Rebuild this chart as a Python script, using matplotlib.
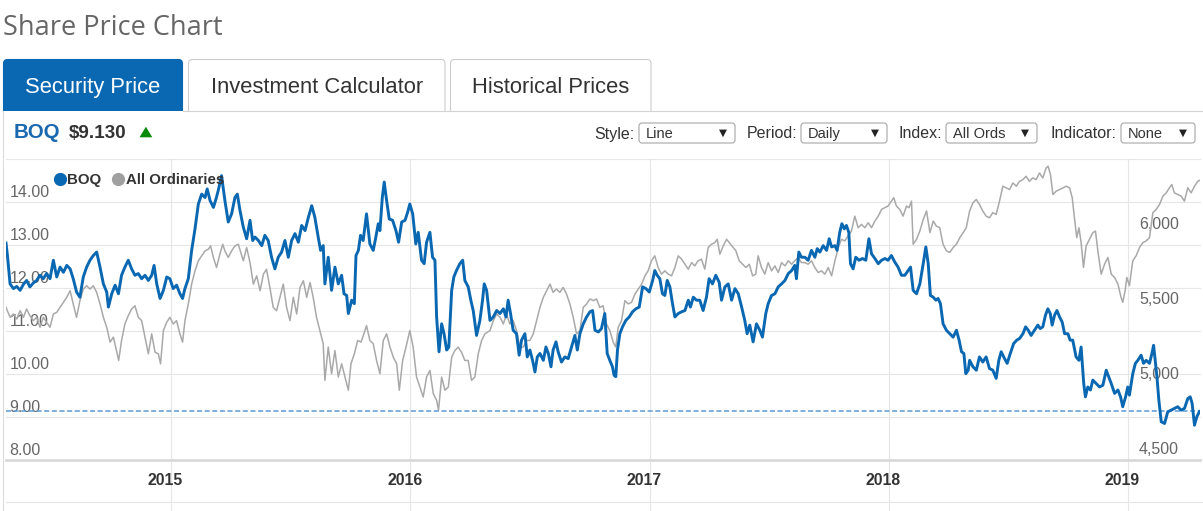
import matplotlib.pyplot as plt
from matplotlib.lines import Line2D
from matplotlib.patches import FancyBboxPatch, Rectangle, Polygon
from matplotlib.transforms import ScaledTranslation

plt.rcParams['font.family'] = ['Liberation Sans', 'DejaVu Sans']

# BOQ closing price (A$), time in decimal years
boq_t = [
    2014.310, 2014.316, 2014.327, 2014.341, 2014.355, 2014.369, 2014.383, 2014.396, 2014.410, 2014.424,
    2014.438, 2014.452, 2014.466, 2014.480, 2014.494, 2014.508, 2014.522, 2014.536, 2014.550, 2014.564,
    2014.578, 2014.591, 2014.605, 2014.619, 2014.633, 2014.647, 2014.661, 2014.675, 2014.689, 2014.703,
    2014.717, 2014.731, 2014.738, 2014.752, 2014.766, 2014.780, 2014.793, 2014.807, 2014.821, 2014.835,
    2014.849, 2014.863, 2014.877, 2014.891, 2014.905, 2014.919, 2014.929, 2014.940, 2014.954, 2014.968,
    2014.982, 2014.995, 2015.009, 2015.023, 2015.037, 2015.048, 2015.058, 2015.072, 2015.086, 2015.100,
    2015.114, 2015.128, 2015.142, 2015.151, 2015.163, 2015.177, 2015.188, 2015.197, 2015.211, 2015.225,
    2015.239, 2015.253, 2015.267, 2015.277, 2015.288,
    2015.302, 2015.316, 2015.330, 2015.341, 2015.351, 2015.365, 2015.379, 2015.392, 2015.406, 2015.420,
    2015.434, 2015.448, 2015.462, 2015.476, 2015.490, 2015.504, 2015.518, 2015.532, 2015.546, 2015.560,
    2015.574, 2015.588, 2015.601, 2015.615, 2015.625, 2015.636, 2015.643, 2015.657, 2015.671, 2015.685,
    2015.699, 2015.713, 2015.723, 2015.734, 2015.741, 2015.755, 2015.766, 2015.773, 2015.783, 2015.792,
    2015.803, 2015.817, 2015.831, 2015.845, 2015.856, 2015.866, 2015.873, 2015.883, 2015.891, 2015.901,
    2015.912, 2015.926, 2015.940, 2015.951, 2015.964, 2015.978, 2015.989, 2015.998, 2016.010, 2016.023,
    2016.033, 2016.047, 2016.058, 2016.068, 2016.082, 2016.093, 2016.103, 2016.110, 2016.120, 2016.131,
    2016.141, 2016.152, 2016.161, 2016.173, 2016.182, 2016.193, 2016.207, 2016.219, 2016.228, 2016.242,
    2016.253, 2016.263, 2016.277, 2016.291, 2016.302, 2016.309, 2016.319,
    2016.333, 2016.347, 2016.361, 2016.375, 2016.389, 2016.400, 2016.409, 2016.419, 2016.430, 2016.444,
    2016.455, 2016.465, 2016.479, 2016.489, 2016.500, 2016.511, 2016.521, 2016.531, 2016.542, 2016.556,
    2016.567, 2016.577, 2016.588, 2016.597, 2016.609, 2016.618, 2016.632, 2016.646, 2016.660, 2016.674,
    2016.688, 2016.698, 2016.709, 2016.723, 2016.737, 2016.751, 2016.762, 2016.772, 2016.786, 2016.799,
    2016.813, 2016.823, 2016.834, 2016.845, 2016.852, 2016.859, 2016.866, 2016.876, 2016.887, 2016.901,
    2016.915, 2016.929, 2016.943, 2016.957, 2016.971, 2016.985, 2016.999, 2017.013, 2017.022, 2017.032,
    2017.043, 2017.054, 2017.064, 2017.074, 2017.085, 2017.096, 2017.106, 2017.120, 2017.134, 2017.148,
    2017.162, 2017.171, 2017.183, 2017.196, 2017.210, 2017.224, 2017.238, 2017.249, 2017.263, 2017.277,
    2017.291, 2017.301, 2017.315, 2017.329,
    2017.343, 2017.357, 2017.371, 2017.385, 2017.398, 2017.408, 2017.419, 2017.433, 2017.447, 2017.461,
    2017.472, 2017.486, 2017.496, 2017.510, 2017.524, 2017.538, 2017.552, 2017.566, 2017.580, 2017.594,
    2017.607, 2017.614, 2017.624, 2017.635, 2017.649, 2017.663, 2017.677, 2017.691, 2017.701, 2017.712,
    2017.726, 2017.740, 2017.751, 2017.761, 2017.775, 2017.784, 2017.795, 2017.804, 2017.814, 2017.823,
    2017.833, 2017.840, 2017.851, 2017.862, 2017.876, 2017.890, 2017.904, 2017.917, 2017.928, 2017.942,
    2017.956, 2017.970, 2017.984, 2017.997, 2018.011, 2018.025, 2018.039, 2018.053, 2018.067, 2018.081,
    2018.091, 2018.102, 2018.116, 2018.130, 2018.144, 2018.155, 2018.165, 2018.174, 2018.186, 2018.197,
    2018.206, 2018.216, 2018.227, 2018.241, 2018.255, 2018.269, 2018.283, 2018.294, 2018.304, 2018.314,
    2018.322, 2018.332,
    2018.338, 2018.352, 2018.366, 2018.379, 2018.393, 2018.407, 2018.421, 2018.435, 2018.449, 2018.460,
    2018.470, 2018.484, 2018.495, 2018.508, 2018.522, 2018.535, 2018.547, 2018.561, 2018.572, 2018.583,
    2018.595, 2018.609, 2018.623, 2018.633, 2018.644, 2018.655, 2018.665, 2018.675, 2018.683, 2018.693,
    2018.703, 2018.714, 2018.725, 2018.735, 2018.749, 2018.758, 2018.769, 2018.783, 2018.795, 2018.804,
    2018.815, 2018.822, 2018.832, 2018.843, 2018.853, 2018.867, 2018.881, 2018.895, 2018.909, 2018.919,
    2018.930, 2018.944, 2018.958, 2018.969, 2018.978, 2018.990, 2018.999, 2019.006, 2019.020, 2019.031,
    2019.041, 2019.055, 2019.065, 2019.076, 2019.090, 2019.100, 2019.107, 2019.115, 2019.121, 2019.129,
    2019.139, 2019.153, 2019.166, 2019.180, 2019.194, 2019.208, 2019.222, 2019.236, 2019.250, 2019.260,
    2019.268, 2019.278, 2019.288, 2019.299,
]
boq_v = [
    13.05, 12.76, 12.10, 11.99, 12.04, 11.95, 12.09, 12.18, 12.03, 12.12,
    12.18, 12.30, 12.22, 12.34, 12.22, 12.65, 12.26, 12.49, 12.37, 12.53,
    12.45, 12.22, 11.91, 11.79, 12.26, 12.49, 12.65, 12.76, 12.84, 12.49,
    12.10, 11.91, 11.56, 11.87, 12.07, 11.87, 12.30, 12.49, 12.65, 12.45,
    12.30, 12.34, 12.22, 12.30, 12.18, 12.30, 12.53, 12.10, 11.76, 11.95,
    12.26, 12.22, 11.99, 12.07, 11.87, 11.76, 11.99, 12.22, 12.88, 13.38,
    13.96, 14.19, 14.11, 14.31, 14.04, 13.88, 14.08, 14.27, 14.62, 14.04,
    13.54, 13.73, 14.11, 14.19, 13.81,
    13.42, 13.15, 13.58, 13.11, 13.19, 13.11, 12.99, 13.23, 13.11, 12.72,
    12.45, 12.72, 12.84, 13.11, 12.72, 13.11, 13.27, 13.07, 13.46, 13.34,
    13.65, 13.92, 13.65, 13.19, 12.88, 12.99, 12.10, 12.72, 11.95, 12.49,
    12.10, 12.30, 11.87, 11.83, 11.41, 11.72, 11.64, 12.76, 12.88, 13.23,
    13.11, 13.73, 13.03, 12.88, 13.19, 13.50, 13.34, 14.11, 14.47, 14.04,
    13.61, 13.58, 13.34, 13.07, 13.54, 13.58, 13.77, 13.96, 13.73, 13.03,
    13.30, 12.65, 12.57, 13.07, 13.30, 12.72, 12.65, 11.33, 10.52, 11.17,
    10.94, 10.56, 10.63, 11.95, 12.26, 12.41, 12.57, 12.65, 12.18, 12.03,
    11.72, 11.48, 10.90, 11.25, 11.72, 12.10, 11.95,
    11.25, 11.33, 11.48, 11.41, 11.52, 11.33, 11.72, 11.41, 11.02, 10.94,
    10.44, 10.79, 10.94, 10.40, 10.56, 10.32, 10.05, 10.40, 10.48, 10.32,
    10.63, 10.48, 10.17, 10.56, 10.75, 10.52, 10.28, 10.40, 10.36, 10.63,
    10.90, 10.56, 10.94, 11.17, 11.33, 11.45, 11.48, 11.02, 10.98, 11.06,
    11.41, 10.48, 10.32, 10.17, 9.97, 9.94, 10.56, 10.94, 11.10, 11.25,
    11.33, 11.45, 11.52, 11.56, 12.03, 11.99, 11.91, 12.18, 12.41, 12.30,
    12.22, 11.87, 11.83, 12.18, 12.03, 11.64, 11.33, 11.41, 11.45, 11.48,
    11.72, 11.56, 11.79, 11.72, 11.72, 11.48, 11.79, 12.22, 12.10, 12.30,
    12.14, 11.72, 12.03, 12.10,
    11.72, 11.99, 11.87, 11.56, 11.25, 10.94, 11.14, 10.75, 11.17, 11.02,
    10.86, 11.41, 11.64, 11.83, 11.87, 12.03, 12.10, 12.18, 12.34, 12.41,
    12.53, 12.22, 12.84, 12.72, 12.72, 12.65, 12.88, 12.72, 12.92, 12.84,
    12.99, 12.88, 13.15, 12.96, 12.99, 12.88, 13.30, 13.50, 13.38, 13.46,
    13.30, 12.57, 12.45, 12.72, 12.65, 12.69, 12.65, 13.15, 12.80, 12.69,
    12.57, 12.65, 12.69, 12.65, 12.76, 12.61, 12.49, 12.30, 12.30, 12.41,
    12.49, 11.95, 11.87, 12.10, 12.57, 12.96, 12.57, 11.83, 11.79, 11.72,
    11.76, 11.64, 11.17, 11.02, 10.94, 10.86, 11.02, 10.79, 10.52, 10.48,
    10.01, 10.09,
    10.32, 10.17, 10.09, 10.40, 10.28, 10.40, 10.13, 10.09, 9.90, 10.32,
    10.52, 10.36, 10.25, 10.48, 10.71, 10.79, 10.83, 10.94, 11.10, 11.02,
    10.90, 11.02, 11.14, 11.06, 11.10, 11.37, 11.52, 11.41, 11.14, 11.37,
    11.48, 11.33, 11.21, 10.94, 10.94, 10.79, 10.79, 10.40, 10.32, 10.63,
    9.78, 9.47, 9.70, 9.63, 9.86, 9.78, 9.70, 9.74, 10.09, 9.94,
    9.78, 9.55, 9.63, 9.47, 9.24, 9.47, 9.70, 9.51, 10.01, 10.25,
    10.32, 10.44, 10.25, 10.32, 10.25, 10.48, 10.67, 10.25, 9.94, 9.39,
    8.89, 8.85, 9.12, 9.16, 9.20, 9.24, 9.16, 9.20, 9.43, 9.47,
    9.32, 8.81, 9.01, 9.13,
]

# All Ordinaries index, time in decimal years
ords_t = [
    2014.310, 2014.327, 2014.341, 2014.355, 2014.369, 2014.383, 2014.396, 2014.410, 2014.424, 2014.438,
    2014.452, 2014.466, 2014.480, 2014.494, 2014.508, 2014.522, 2014.536, 2014.550, 2014.564, 2014.578,
    2014.591, 2014.605, 2014.619, 2014.633, 2014.647, 2014.661, 2014.675, 2014.689, 2014.703, 2014.717,
    2014.731, 2014.745, 2014.759, 2014.773, 2014.781, 2014.793, 2014.807, 2014.821, 2014.835, 2014.849,
    2014.863, 2014.877, 2014.891, 2014.905, 2014.919, 2014.933, 2014.947, 2014.956, 2014.968, 2014.982,
    2014.995, 2015.009, 2015.023, 2015.037, 2015.048, 2015.058, 2015.072, 2015.086, 2015.100, 2015.114,
    2015.128, 2015.142, 2015.156, 2015.165, 2015.177, 2015.190, 2015.204, 2015.216, 2015.225, 2015.239,
    2015.253, 2015.267, 2015.281,
    2015.302, 2015.316, 2015.330, 2015.344, 2015.358, 2015.372, 2015.386, 2015.399, 2015.413, 2015.427,
    2015.441, 2015.455, 2015.469, 2015.483, 2015.497, 2015.511, 2015.525, 2015.539, 2015.553, 2015.567,
    2015.581, 2015.594, 2015.608, 2015.622, 2015.636, 2015.643, 2015.657, 2015.671, 2015.685, 2015.699,
    2015.713, 2015.727, 2015.741, 2015.752, 2015.766, 2015.780, 2015.794, 2015.806, 2015.817, 2015.831,
    2015.845, 2015.859, 2015.873, 2015.887, 2015.901, 2015.915, 2015.929, 2015.943, 2015.954, 2015.968,
    2015.982, 2015.998, 2016.012, 2016.026, 2016.040, 2016.054, 2016.068, 2016.082, 2016.096, 2016.110,
    2016.118, 2016.131, 2016.145, 2016.159, 2016.173, 2016.186, 2016.200, 2016.214, 2016.228, 2016.242,
    2016.256, 2016.270, 2016.284, 2016.298, 2016.312,
    2016.333, 2016.347, 2016.361, 2016.375, 2016.389, 2016.402, 2016.416, 2016.430, 2016.444, 2016.458,
    2016.472, 2016.486, 2016.500, 2016.514, 2016.528, 2016.542, 2016.556, 2016.570, 2016.584, 2016.597,
    2016.611, 2016.625, 2016.639, 2016.653, 2016.667, 2016.681, 2016.695, 2016.709, 2016.723, 2016.737,
    2016.751, 2016.765, 2016.779, 2016.792, 2016.806, 2016.820, 2016.834, 2016.848, 2016.859, 2016.869,
    2016.883, 2016.897, 2016.911, 2016.925, 2016.939, 2016.953, 2016.967, 2016.981, 2016.994, 2017.008,
    2017.022, 2017.036, 2017.050, 2017.064, 2017.078, 2017.092, 2017.106, 2017.120, 2017.134, 2017.148,
    2017.162, 2017.176, 2017.189, 2017.203, 2017.217, 2017.231, 2017.245, 2017.259, 2017.273, 2017.283,
    2017.294, 2017.308, 2017.322,
    2017.361, 2017.375, 2017.389, 2017.403, 2017.417, 2017.431, 2017.444, 2017.454, 2017.468, 2017.482,
    2017.496, 2017.510, 2017.524, 2017.538, 2017.552, 2017.566, 2017.580, 2017.594, 2017.607, 2017.621,
    2017.635, 2017.649, 2017.663, 2017.677, 2017.691, 2017.705, 2017.719, 2017.733, 2017.747, 2017.761,
    2017.775, 2017.789, 2017.802, 2017.816, 2017.830, 2017.844, 2017.858, 2017.872, 2017.886, 2017.900,
    2017.914, 2017.928, 2017.942, 2017.956, 2017.970, 2017.984, 2017.997, 2018.011, 2018.021, 2018.032,
    2018.046, 2018.060, 2018.074, 2018.085, 2018.095, 2018.102, 2018.116, 2018.130, 2018.144, 2018.158,
    2018.172, 2018.186, 2018.199, 2018.213, 2018.227, 2018.241, 2018.255, 2018.269, 2018.283, 2018.297,
    2018.311,
    2018.324, 2018.338, 2018.352, 2018.366, 2018.379, 2018.393, 2018.407, 2018.421, 2018.435, 2018.449,
    2018.463, 2018.477, 2018.491, 2018.505, 2018.519, 2018.533, 2018.547, 2018.561, 2018.574, 2018.588,
    2018.602, 2018.616, 2018.630, 2018.644, 2018.658, 2018.666, 2018.676, 2018.686, 2018.700, 2018.714,
    2018.728, 2018.742, 2018.756, 2018.767, 2018.776, 2018.786, 2018.795, 2018.804, 2018.814, 2018.825,
    2018.839, 2018.853, 2018.864, 2018.874, 2018.888, 2018.902, 2018.916, 2018.930, 2018.944, 2018.958,
    2018.971, 2018.978, 2018.988, 2018.995, 2019.006, 2019.020, 2019.034, 2019.048, 2019.062, 2019.076,
    2019.090, 2019.104, 2019.118, 2019.132, 2019.146, 2019.160, 2019.173, 2019.183, 2019.194, 2019.208,
    2019.222, 2019.236, 2019.250, 2019.264, 2019.278, 2019.292, 2019.306,
]
ords_v = [
    5515, 5449, 5471, 5438, 5493, 5449, 5504, 5460, 5427, 5449,
    5383, 5449, 5416, 5383, 5471, 5482, 5515, 5549, 5582, 5626,
    5538, 5449, 5560, 5637, 5659, 5637, 5659, 5615, 5538, 5449,
    5383, 5284, 5317, 5217, 5162, 5295, 5405, 5460, 5504, 5526,
    5449, 5427, 5317, 5206, 5339, 5217, 5206, 5140, 5361, 5416,
    5449, 5405, 5427, 5339, 5284, 5427, 5538, 5670, 5758, 5825,
    5858, 5891, 5902, 5924, 5847, 5780, 5869, 5935, 5891, 5847,
    5891, 5924, 5935,
    5825, 5913, 5813, 5670, 5725, 5626, 5736, 5769, 5648, 5515,
    5493, 5582, 5670, 5515, 5427, 5582, 5471, 5648, 5692, 5582,
    5681, 5582, 5449, 5361, 5273, 5030, 5251, 5074, 5228, 5052,
    5140, 5052, 4964, 5140, 5206, 5295, 5284, 5339, 5394, 5295,
    5273, 5162, 5074, 5295, 5339, 5251, 5184, 5140, 4964, 5162,
    5251, 5361, 5251, 5052, 4986, 4919, 5052, 5096, 4942, 4897,
    4831, 5052, 4964, 4986, 5184, 5228, 5251, 5217, 5162, 5162,
    5030, 5052, 5206, 5295, 5339,
    5361, 5427, 5471, 5449, 5405, 5471, 5405, 5427, 5361, 5251,
    5251, 5295, 5295, 5339, 5427, 5515, 5582, 5626, 5670, 5615,
    5637, 5615, 5648, 5604, 5538, 5449, 5339, 5361, 5515, 5538,
    5571, 5560, 5571, 5515, 5526, 5405, 5361, 5284, 5251, 5383,
    5427, 5560, 5538, 5549, 5604, 5637, 5670, 5725, 5758, 5825,
    5858, 5780, 5736, 5758, 5736, 5725, 5780, 5858, 5836, 5802,
    5769, 5813, 5791, 5825, 5836, 5769, 5913, 5935, 5946, 5968,
    5869, 5924, 5968,
    5891, 5825, 5802, 5780, 5802, 5725, 5736, 5858, 5780, 5736,
    5813, 5758, 5791, 5747, 5813, 5791, 5825, 5802, 5825, 5847,
    5813, 5813, 5802, 5825, 5780, 5747, 5758, 5736, 5780, 5725,
    5825, 5913, 5968, 5957, 5990, 6023, 6122, 6045, 6067, 6045,
    6078, 6045, 6089, 6122, 6167, 6178, 6189, 6222, 6244, 6189,
    6167, 6122, 6189, 6178, 6222, 5935, 5968, 6023, 6100, 6156,
    6012, 6089, 6056, 6045, 5935, 5891, 5880, 5913, 5935, 5979,
    6012,
    6045, 6156, 6211, 6233, 6200, 6156, 6122, 6111, 6145, 6134,
    6222, 6321, 6310, 6299, 6343, 6321, 6354, 6365, 6387, 6354,
    6376, 6365, 6409, 6376, 6443, 6454, 6398, 6266, 6288, 6299,
    6310, 6321, 6310, 6244, 6111, 5979, 6045, 5946, 5781, 5924,
    5968, 6012, 6023, 5891, 5736, 5802, 5847, 5736, 5714, 5670,
    5582, 5549, 5626, 5714, 5659, 5825, 5858, 5913, 5946, 5957,
    5979, 6145, 6167, 6200, 6255, 6277, 6310, 6332, 6277, 6266,
    6255, 6222, 6310, 6277, 6321, 6354, 6365,
]

last_price = 9.13
year_ticks = [2015, 2016, 2017, 2018, 2019]
boq_ticks = [8, 9, 10, 11, 12, 13, 14]
boq_grid = [9, 10, 11, 12, 13, 14, 15]
ords_ticks = [4500, 5000, 5500, 6000]
boq_range = (8, 15)
ords_range = (4500, 6500)
time_range = (2014.310, 2019.301)

tabs = ['Security Price', 'Investment Calculator', 'Historical Prices']
controls = [('Style:', 'Line'), ('Period:', 'Daily'), ('Index:', 'All Ords'), ('Indicator:', 'None')]

BLUE = '#0a67b2'
GREY_LINE = '#a9a9a9'
GRID = '#e6e6e6'

W, H = 1203, 511
fig = plt.figure(figsize=(W / 100, H / 100), dpi=100)

# page furniture drawn in pixel units
bg = fig.add_axes([0, 0, 1, 1])
bg.set_xlim(0, W)
bg.set_ylim(H, 0)
bg.axis('off')

bg.text(3, 35, 'Share Price Chart', family='Open Sans', fontsize=19.5,
        color='#666666', va='baseline')

tab_x = [(3.5, 182.5), (188.5, 445), (450.5, 651)]
for i, (name, (x0, x1)) in enumerate(zip(tabs, tab_x)):
    active = i == 0
    bg.add_patch(FancyBboxPatch((x0, 59.5), x1 - x0, 60,
                                boxstyle='round,pad=0,rounding_size=4',
                                fc=BLUE if active else 'white',
                                ec=BLUE if active else '#cccccc', lw=0.8))
    bg.text((x0 + x1) / 2, 93.3, name, ha='center', va='baseline', fontsize=15.8,
            color='white' if active else '#333333')
bg.add_patch(Rectangle((0, 111.5), W, 20, fc='white', ec='none', zorder=3))
bg.plot([182.5, W], [111, 111], color='#d3d3d3', lw=0.8, zorder=4)
bg.plot([3.2, 3.2], [111, H], color='#dcdcdc', lw=0.8, zorder=4)
bg.plot([6, W], [501.7, 501.7], color=GRID, lw=0.8, zorder=4)

bg.text(14, 138.3, 'BOQ', fontsize=14.8, weight='bold', color='#1a68b0',
        va='baseline', zorder=5)
bg.text(69, 138.3, f'\\${last_price:.3f}', fontsize=13.6, weight='bold',
        color='#333333', va='baseline', zorder=5)
bg.add_patch(Polygon([[139.5, 137.3], [152.3, 137.3], [145.9, 126.7]],
                     closed=True, fc='#0a8a0a', ec='none', zorder=5))

box_x = [(639, 735), (801, 887), (946, 1037), (1121, 1195)]
for (label, value), (x0, x1) in zip(controls, box_x):
    bg.text(x0 - 4, 138.5, label, ha='right', va='baseline', fontsize=11.5,
            color='#333333', zorder=5)
    bg.add_patch(FancyBboxPatch((x0, 123), x1 - x0, 20,
                                boxstyle='round,pad=0,rounding_size=3',
                                fc='white', ec='#a6a6a6', lw=0.8, zorder=5))
    bg.text(x0 + 7, 138, value, va='baseline', fontsize=10.5, color='#333333', zorder=6)
    bg.text(x1 - 12, 133, '\u25bc', ha='center', va='center', fontsize=7.5,
            family='DejaVu Sans', color='#222222', zorder=6)

# chart
ax = fig.add_axes([6 / W, 51 / H, 1194 / W, 300.7 / H])
ax.patch.set_visible(False)
ax.set_xlim(*time_range)
ax.set_ylim(*boq_range)
for s in ax.spines.values():
    s.set_visible(False)
ax.set_yticks([])
for v in boq_grid:
    ax.axhline(v, color=GRID, lw=0.8, zorder=0, clip_on=False)
for yr in year_ticks:
    ax.axvline(yr, ymin=-51 / 300.7, ymax=1, color=GRID, lw=0.8, zorder=0, clip_on=False)
ax.axhline(boq_range[0], color='#d9d9d9', lw=2, zorder=1, clip_on=False)

ax.set_xticks(year_ticks)
ax.set_xticklabels([str(y) for y in year_ticks], fontweight='bold', fontsize=11.3,
                   color='#333333')
ax.tick_params(axis='x', length=0, pad=9)
shift = ScaledTranslation(-5.5 / 100, 0, fig.dpi_scale_trans)
for lab in ax.get_xticklabels():
    lab.set_transform(lab.get_transform() + shift)

up = ScaledTranslation(0, 5.5 / 100, fig.dpi_scale_trans)
for v in boq_ticks:
    ax.text(3.3 / 1194, v, f'{v:.2f}', transform=ax.get_yaxis_transform() + up,
            fontsize=11.5, color='#666666', va='baseline', ha='left')

ax2 = ax.twinx()
ax2.set_ylim(*ords_range)
ax2.set_yticks([])
for s in ax2.spines.values():
    s.set_visible(False)
for v in ords_ticks:
    ax2.text(1133 / 1194, v, f'{v:,}', transform=ax2.get_yaxis_transform() + up,
             fontsize=11.5, color='#666666', va='baseline', ha='left', zorder=1)
ax2.plot(ords_t, ords_v, color=GREY_LINE, lw=1.1, zorder=2)

ax3 = ax.twinx()
ax3.set_ylim(*boq_range)
ax3.set_yticks([])
for s in ax3.spines.values():
    s.set_visible(False)
ax3.axhline(last_price, color='#5b9bd5', lw=1.1, ls=(0, (3.3, 1.7)), zorder=1)
ax3.plot(boq_t, boq_v, color=BLUE, lw=2.1, zorder=2, solid_joinstyle='round')

handles = [Line2D([], [], marker='o', ls='', color=BLUE, ms=8.5, label='BOQ'),
           Line2D([], [], marker='o', ls='', color='#a0a0a0', ms=8.5, label='All Ordinaries')]
leg = ax3.legend(handles=handles, loc='upper left', bbox_to_anchor=(0.0405, 0.955),
                 ncol=2, frameon=False, handlelength=0.7, handletextpad=0.15,
                 columnspacing=0.8, borderaxespad=0, borderpad=0,
                 prop={'weight': 'bold', 'size': 10.8})
for t in leg.get_texts():
    t.set_color('#333333')

fig.savefig('out.png', dpi=100)
